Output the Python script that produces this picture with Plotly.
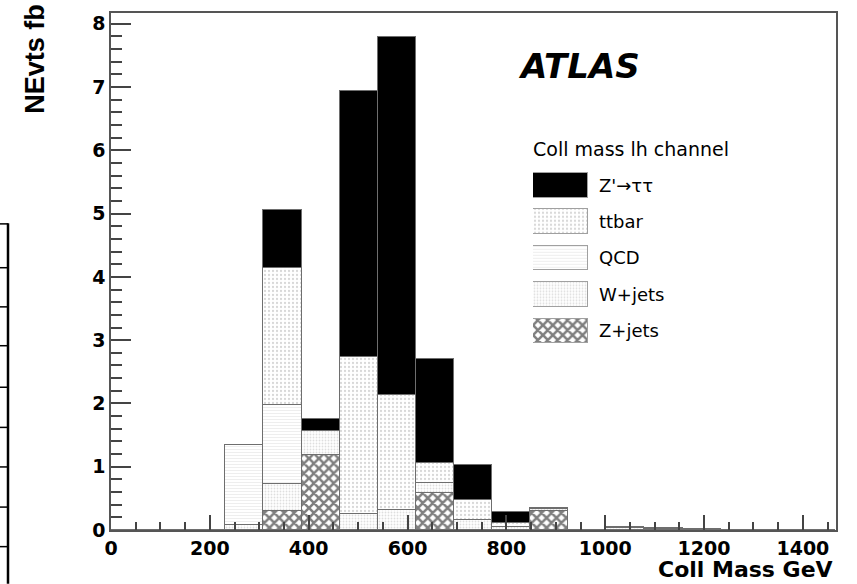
import plotly.graph_objects as go

# ---------------- data ----------------
bin_width = 77.1
n_bins = 19
centers = [bin_width * (i + 0.5) for i in range(n_bins)]

series_names = ["Z+jets", "W+jets", "QCD", "ttbar", "Z'→ττ"]
zjets  = [0, 0, 0, 0.00, 0.30, 1.18, 0.00, 0.00, 0.58, 0.00, 0.00, 0.30, 0, 0.00, 0.00, 0.00, 0, 0, 0]
wjets  = [0, 0, 0, 0.08, 0.42, 0.38, 0.25, 0.31, 0.16, 0.16, 0.05, 0.03, 0, 0.03, 0.02, 0.01, 0, 0, 0]
qcd    = [0, 0, 0, 1.26, 1.26, 0.00, 0.00, 0.00, 0.00, 0.00, 0.00, 0.00, 0, 0.00, 0.00, 0.00, 0, 0, 0]
ttbar  = [0, 0, 0, 0.00, 2.16, 0.00, 2.48, 1.82, 0.32, 0.32, 0.06, 0.02, 0, 0.02, 0.01, 0.00, 0, 0, 0]
zprime = [0, 0, 0, 0.00, 0.91, 0.20, 4.20, 5.66, 1.64, 0.55, 0.18, 0.00, 0, 0.00, 0.00, 0.00, 0, 0, 0]
series_values = [zjets, wjets, qcd, ttbar, zprime]

legend_order = ["Z'→ττ", "ttbar", "QCD", "W+jets", "Z+jets"]
x_tick_vals = [0, 200, 400, 600, 800, 1000, 1200, 1400]
y_tick_vals = [0, 1, 2, 3, 4, 5, 6, 7, 8]

# ---------------- styles ----------------
styles = {
    "Z+jets": dict(color="white", pattern=dict(shape="x", fgcolor="black", bgcolor="white", size=7, solidity=0.6)),
    "W+jets": dict(color="white", pattern=dict(shape=".", fgcolor="#bdbdbd", bgcolor="white", size=3, solidity=0.3)),
    "QCD":    dict(color="white", pattern=dict(shape="-", fgcolor="#d9d9d9", bgcolor="white", size=3, solidity=0.3)),
    "ttbar":  dict(color="white", pattern=dict(shape=".", fgcolor="#b0b0b0", bgcolor="white", size=4, solidity=0.25)),
    "Z'→ττ":  dict(color="black"),
}

W, H = 857, 584
L, R, T, B = 111, 836, 11, 530


def px(x):
    return (x - L) / (R - L)


def py(y):
    return (B - y) / (B - T)


fig = go.Figure()

for name, vals in zip(series_names, series_values):
    st = styles[name]
    fig.add_trace(go.Bar(
        x=centers, y=vals, width=bin_width, name=name,
        marker=dict(color=st["color"], pattern=st.get("pattern", None),
                    line=dict(color="#6e6e6e", width=1)),
        showlegend=False, hoverinfo="skip",
    ))

# legend boxes drawn on an auxiliary axis pair
for row, name in enumerate(legend_order):
    st = styles[name]
    fig.add_trace(go.Bar(
        x=[1], y=[row], base=0, orientation="h", width=0.68,
        marker=dict(color=st["color"], pattern=st.get("pattern", None),
                    line=dict(color="#a0a0a0", width=1)),
        xaxis="x2", yaxis="y2", showlegend=False, hoverinfo="skip",
    ))

annotations = []
for row, name in enumerate(legend_order):
    annotations.append(dict(
        x=px(597), xref="paper", y=row, yref="y2", text=name, showarrow=False,
        xanchor="left", yanchor="middle",
        font=dict(family="DejaVu Sans", size=18, color="black"),
    ))

annotations += [
    dict(x=px(531), y=py(148), xref="paper", yref="paper", text="Coll mass lh channel",
         showarrow=False, xanchor="left", yanchor="middle",
         font=dict(family="DejaVu Sans", size=19, color="black")),
    dict(x=px(516), y=py(64), xref="paper", yref="paper", text="<b><i>ATLAS</i></b>",
         showarrow=False, xanchor="left", yanchor="middle",
         font=dict(family="DejaVu Sans", size=34, color="black")),
    dict(x=px(35), y=py(57), xref="paper", yref="paper", text="<b>NEvts fb</b>",
         showarrow=False, xanchor="center", yanchor="middle", textangle=-90,
         font=dict(family="Liberation Sans Narrow, Liberation Sans, Arial", size=27, color="black")),
    dict(x=px(835), y=py(570), xref="paper", yref="paper", text="<b>Coll Mass GeV</b>",
         showarrow=False, xanchor="right", yanchor="middle",
         font=dict(family="DejaVu Sans", size=22, color="black")),
]

# stray frame fragment of a neighbouring plot at the left edge
shapes = [dict(type="line", xref="paper", yref="paper", x0=px(8), x1=px(8), y0=py(222), y1=py(584),
               line=dict(color="black", width=2.5))]
for yy in [222.7, 266.7, 306, 345, 386.7, 427, 466.7, 507, 546.7]:
    shapes.append(dict(type="line", xref="paper", yref="paper", x0=px(0), x1=px(8), y0=py(yy), y1=py(yy),
                       line=dict(color="black", width=1.5)))

tickfont = dict(family="DejaVu Sans", size=19, color="black", weight="bold")

fig.update_layout(
    width=W, height=H,
    margin=dict(l=L, r=W - R, t=T, b=H - B),
    paper_bgcolor="white", plot_bgcolor="white",
    barmode="stack", bargap=0,
    xaxis=dict(range=[0, 1467], tickvals=x_tick_vals, ticks="inside", ticklen=15, tickwidth=1.5,
               tickcolor="#444", showgrid=False, zeroline=False, showline=True, linecolor="#555",
               linewidth=1.5, mirror=True, tickfont=tickfont,
               minor=dict(dtick=50, ticks="inside", ticklen=8, tickwidth=1.5, tickcolor="#444", showgrid=False)),
    yaxis=dict(range=[0, 8.17], tickvals=y_tick_vals, ticks="inside", ticklen=20, tickwidth=1.5,
               tickcolor="#444", showgrid=False, zeroline=False, showline=True, linecolor="#555",
               linewidth=1.5, mirror=True, tickfont=tickfont,
               minor=dict(dtick=0.2, ticks="inside", ticklen=11, tickwidth=1.5, tickcolor="#444", showgrid=False)),
    xaxis2=dict(domain=[px(533), px(588)], range=[0, 1], visible=False, anchor="y2", fixedrange=True),
    yaxis2=dict(domain=[py(348.3), py(165.4)], range=[4.5, -0.5], visible=False, anchor="x2", fixedrange=True),
    annotations=annotations,
    shapes=shapes,
)

fig.write_html("out.html")
